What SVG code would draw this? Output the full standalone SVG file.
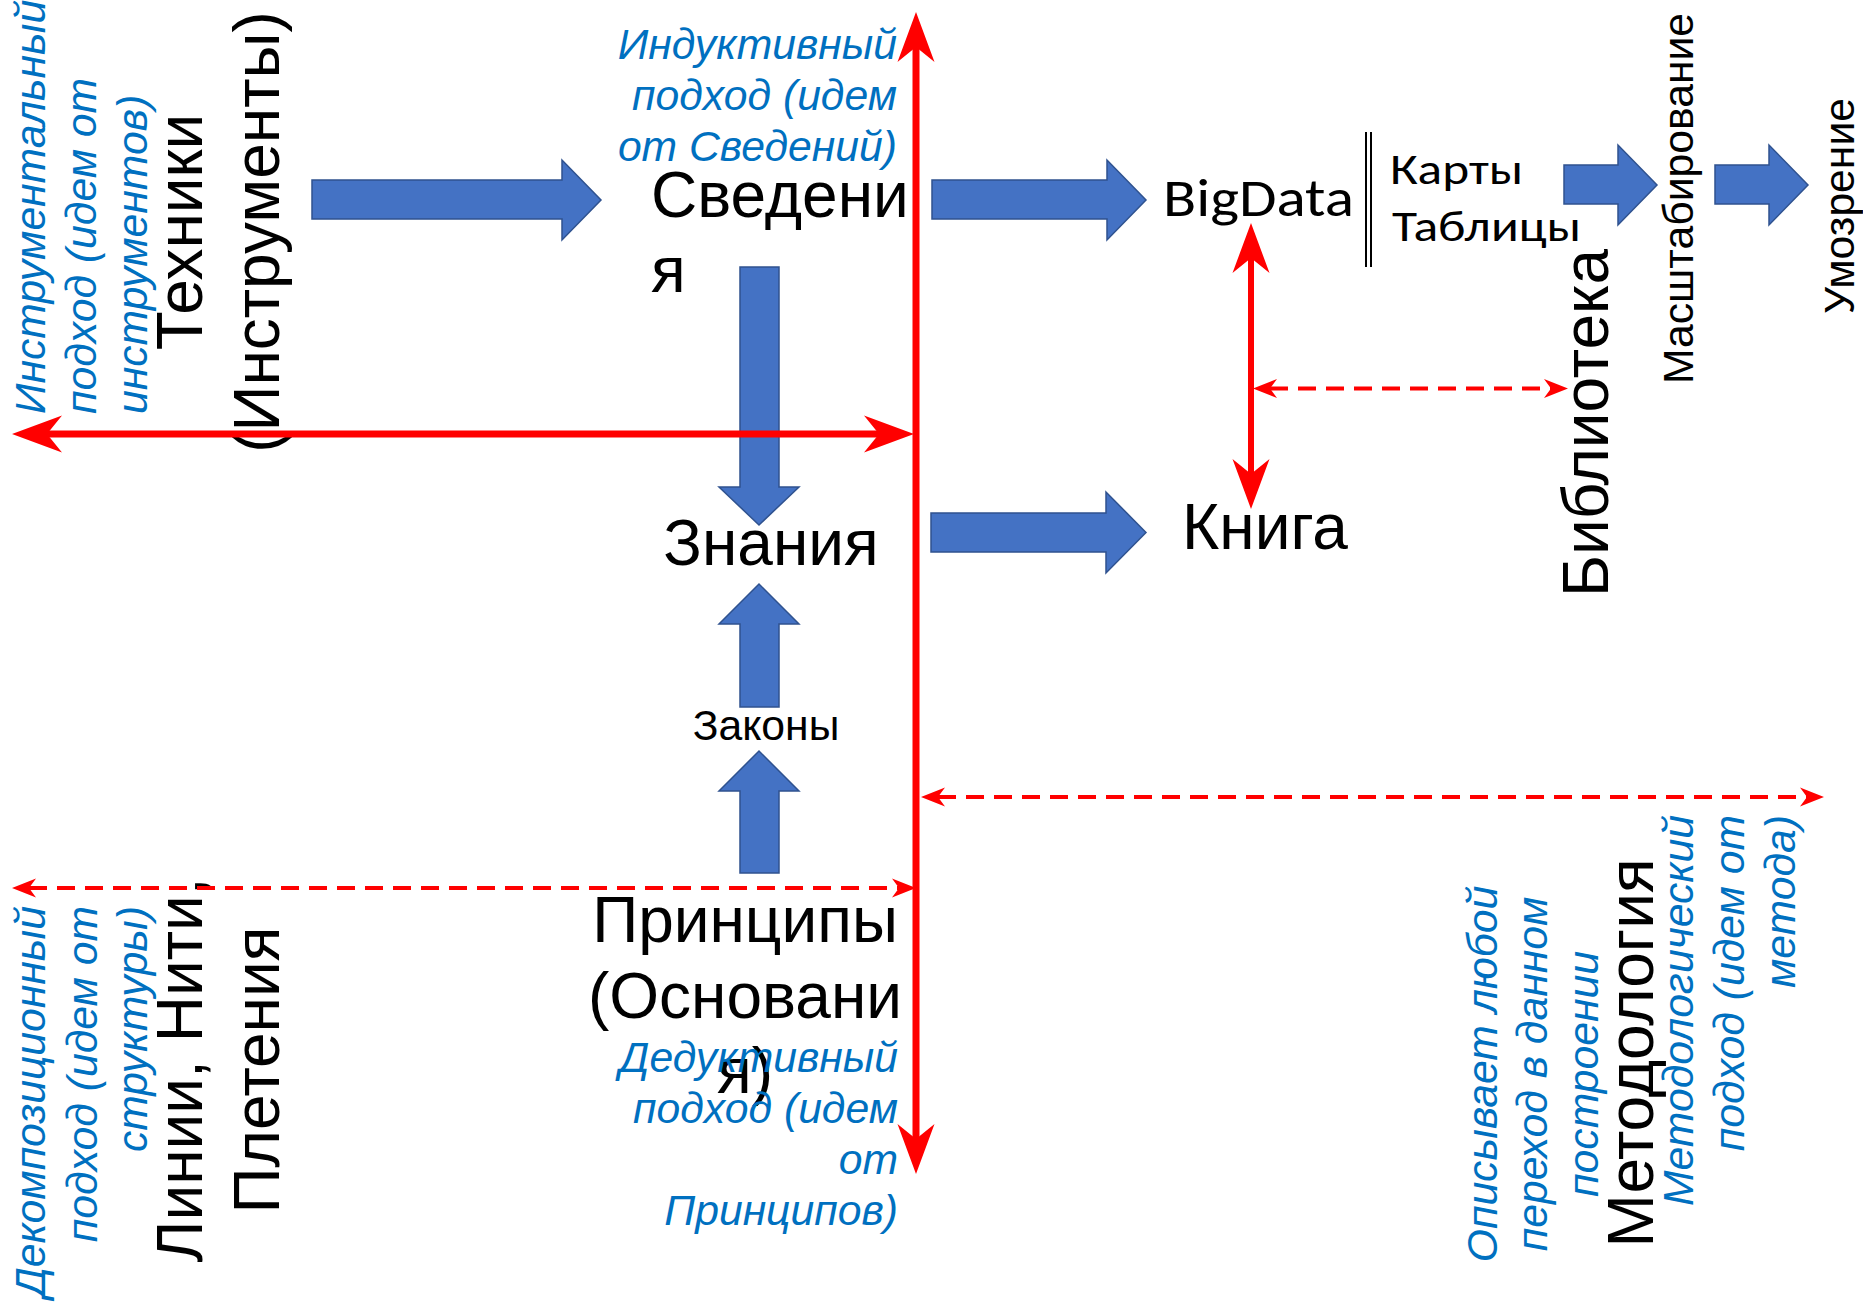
<svg xmlns="http://www.w3.org/2000/svg" width="1863" height="1310" viewBox="0 0 1863 1310">
<style>
.bg{fill:#ffffff}
.blk{font-family:"Liberation Sans",Arial,sans-serif;font-size:64px;fill:#000}
.mid{font-family:"Liberation Sans",Arial,sans-serif;font-size:42.7px;fill:#000}
.cal{font-family:Carlito,"Open Sans","Noto Sans",sans-serif;fill:#000}
.note{font-family:"Liberation Sans",Arial,sans-serif;font-size:42.7px;font-style:italic;fill:#0070C0}
.barrow{fill:#4472C4;stroke:#2F528F;stroke-width:1.5}
.red{stroke:#FF0000;fill:none}
.solid{stroke-width:7}
.dash{stroke-width:4;stroke-dasharray:18 10}
</style>
<defs>
<marker id="bigHead" markerUnits="userSpaceOnUse" viewBox="0 -20 52 40" refX="15" refY="0" markerWidth="52" markerHeight="40" orient="auto-start-reverse">
<path d="M50,0 L0,-18.5 L15,0 L0,18.5 Z" fill="#FF0000"/>
</marker>
<marker id="smallHead" markerUnits="userSpaceOnUse" viewBox="0 -11 26 22" refX="7" refY="0" markerWidth="26" markerHeight="22" orient="auto-start-reverse">
<path d="M24,0 L0,-9.5 L7,0 L0,9.5 Z" fill="#FF0000"/>
</marker>
</defs>
<rect class="bg" x="0" y="0" width="1863" height="1310"/>

<g id="tehniki">
<text class="blk" text-anchor="middle" transform="rotate(-90 202 232)" x="202" y="232">Техники</text>
<text class="blk" text-anchor="middle" transform="rotate(-90 279 232)" x="279" y="232">(Инструменты)</text>
</g>
<g id="instr-note">
<text class="note" transform="rotate(-90 45 414)" x="45" y="414">Инструментальный</text>
<text class="note" transform="rotate(-90 96 414)" x="96" y="414">подход (идем от</text>
<text class="note" transform="rotate(-90 147 414)" x="147" y="414">инструментов)</text>
</g>
<g id="linii">
<text class="blk" text-anchor="middle" transform="rotate(-90 202 1070)" x="202" y="1070">Линии, Нити,</text>
<text class="blk" text-anchor="middle" transform="rotate(-90 279 1070)" x="279" y="1070">Плетения</text>
</g>
<g id="dekomp-note">
<text class="note" text-anchor="end" transform="rotate(-90 45 906)" x="45" y="906">Декомпозиционный</text>
<text class="note" text-anchor="end" transform="rotate(-90 97 906)" x="97" y="906">подход (идем от</text>
<text class="note" text-anchor="end" transform="rotate(-90 147 906)" x="147" y="906">структуры)</text>
</g>
<g id="induct-note">
<text class="note" text-anchor="end" x="897" y="59">Индуктивный</text>
<text class="note" text-anchor="end" x="897" y="110">подход (идем</text>
<text class="note" text-anchor="end" x="897" y="161">от Сведений)</text>
</g>
<g id="svedeniya">
<text class="blk" x="651" y="217">Сведени</text>
<text class="blk" x="651" y="292">я</text>
</g>
<g id="znaniya">
<text class="blk" text-anchor="middle" x="771" y="565">Знания</text>
</g>
<g id="zakony">
<text class="mid" text-anchor="middle" x="766" y="740">Законы</text>
</g>
<g id="principy">
<text class="blk" text-anchor="middle" x="745" y="942">Принципы</text>
<text class="blk" text-anchor="middle" x="745" y="1018">(Основани</text>
<text class="blk" text-anchor="middle" x="745" y="1093">я)</text>
</g>
<g id="deduct-note">
<text class="note" text-anchor="end" x="898" y="1072">Дедуктивный</text>
<text class="note" text-anchor="end" x="898" y="1123">подход (идем</text>
<text class="note" text-anchor="end" x="898" y="1174">от</text>
<text class="note" text-anchor="end" x="898" y="1225">Принципов)</text>
</g>
<g id="bigdata">
<text class="cal" x="1163" y="216" style="font-size:53px" textLength="191" lengthAdjust="spacingAndGlyphs">BigData</text>
<line x1="1366" y1="132" x2="1366" y2="267" stroke="#000" stroke-width="2"/>
<line x1="1371" y1="132" x2="1371" y2="267" stroke="#000" stroke-width="2"/>
</g>
<g id="karty">
<text class="cal" x="1390" y="184" style="font-size:44px" textLength="133" lengthAdjust="spacingAndGlyphs">Карты</text>
<text class="cal" x="1392" y="241" style="font-size:44px" textLength="189" lengthAdjust="spacingAndGlyphs">Таблицы</text>
</g>
<g id="masshtab">
<text class="mid" transform="rotate(-90 1693 384)" x="1693" y="384">Масштабирование</text>
</g>
<g id="umozrenie">
<text class="mid" transform="rotate(-90 1854 314)" x="1854" y="314">Умозрение</text>
</g>
<g id="kniga">
<text class="blk" x="1182" y="549">Книга</text>
</g>
<g id="biblioteka">
<text class="blk" text-anchor="middle" transform="rotate(-90 1608 423)" x="1608" y="423">Библиотека</text>
</g>
<g id="metodologiya">
<text class="blk" text-anchor="middle" transform="rotate(-90 1653 1053)" x="1653" y="1053">Методология</text>
</g>
<g id="opisyvaet-note">
<text class="note" text-anchor="middle" transform="rotate(-90 1497 1074)" x="1497" y="1074">Описывает любой</text>
<text class="note" text-anchor="middle" transform="rotate(-90 1547 1074)" x="1547" y="1074">переход в данном</text>
<text class="note" text-anchor="middle" transform="rotate(-90 1598 1074)" x="1598" y="1074">построении</text>
</g>
<g id="metod-note">
<text class="note" text-anchor="end" transform="rotate(-90 1693 815)" x="1693" y="815">Методологический</text>
<text class="note" text-anchor="end" transform="rotate(-90 1744 815)" x="1744" y="815">подход (идем от</text>
<text class="note" text-anchor="end" transform="rotate(-90 1795 815)" x="1795" y="815">метода)</text>
</g>

<g id="connectors">
<polygon class="barrow" points="312,180 562,180 562,160 601,200 562,240 562,219 312,219"/>
<polygon class="barrow" points="932,180 1107,180 1107,160 1146,200 1107,240 1107,219 932,219"/>
<polygon class="barrow" points="931,513 1106,513 1106,492 1146,532.5 1106,573 1106,552 931,552"/>
<polygon class="barrow" points="740,267 779,267 779,487 799,487 759,525 719,487 740,487"/>
<polygon class="barrow" points="740,707 740,624 719,624 759,584 799,624 779,624 779,707"/>
<polygon class="barrow" points="740,873 740,791 719,791 759,751 799,791 779,791 779,873"/>
<polygon class="barrow" points="1564,165 1618,165 1618,145 1657,185 1618,225 1618,204 1564,204"/>
<polygon class="barrow" points="1715,165 1769,165 1769,145 1808,185 1769,225 1769,204 1715,204"/>

<line class="red solid" x1="916" y1="47" x2="916" y2="1139" marker-start="url(#bigHead)" marker-end="url(#bigHead)"/>
<line class="red solid" x1="47" y1="434" x2="879" y2="434" marker-start="url(#bigHead)" marker-end="url(#bigHead)"/>
<line class="red" stroke-width="6" x1="1251" y1="258" x2="1251" y2="474" marker-start="url(#bigHead)" marker-end="url(#bigHead)"/>

<line class="red dash" x1="1270" y1="388.5" x2="1551" y2="388.5" marker-start="url(#smallHead)" marker-end="url(#smallHead)"/>
<line class="red dash" x1="938" y1="797" x2="1807" y2="797" marker-start="url(#smallHead)" marker-end="url(#smallHead)"/>
<line class="red dash" x1="29" y1="888" x2="899" y2="888" marker-start="url(#smallHead)" marker-end="url(#smallHead)"/>
</g>
</svg>
